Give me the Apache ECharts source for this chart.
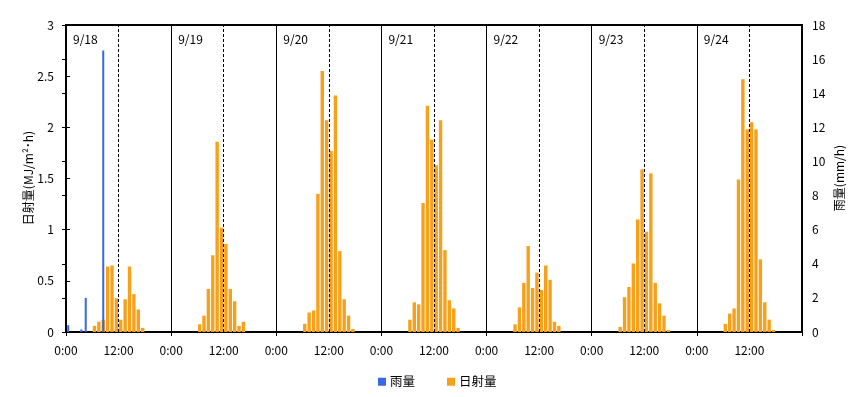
<!DOCTYPE html>
<html>
<head>
<meta charset="utf-8">
<script src="https://cdn.jsdelivr.net/npm/echarts@6/dist/echarts.min.js"></script>
<style>
  html, body { margin: 0; padding: 0; background: #fff; }
  #chart { width: 865px; height: 397px; }
</style>
</head>
<body>
<div id="chart"></div>
<script>
// 日付ラベル
const dates = ['9/18', '9/19', '9/20', '9/21', '9/22', '9/23', '9/24']
// 日射量 (MJ/m2・h) 各日 0時〜23時
const rad0918 = [0, 0, 0, 0, 0, 0, 0.06, 0.10, 0.12, 0.64, 0.65, 0.33, 0.12, 0.32, 0.64, 0.37, 0.22, 0.04, 0, 0, 0, 0, 0, 0]
const rad0919 = [0, 0, 0, 0, 0, 0, 0.075, 0.16, 0.42, 0.75, 1.86, 1.02, 0.86, 0.42, 0.30, 0.06, 0.10, 0, 0, 0, 0, 0, 0, 0]
const rad0920 = [0, 0, 0, 0, 0, 0, 0.08, 0.19, 0.21, 1.35, 2.55, 2.07, 1.77, 2.31, 0.79, 0.32, 0.16, 0.03, 0, 0, 0, 0, 0, 0]
const rad0921 = [0, 0, 0, 0, 0, 0, 0.12, 0.29, 0.27, 1.26, 2.21, 1.88, 1.63, 2.07, 0.80, 0.31, 0.23, 0.04, 0, 0, 0, 0, 0, 0]
const rad0922 = [0, 0, 0, 0, 0, 0, 0.075, 0.24, 0.48, 0.84, 0.43, 0.58, 0.41, 0.65, 0.51, 0.10, 0.06, 0, 0, 0, 0, 0, 0, 0]
const rad0923 = [0, 0, 0, 0, 0, 0, 0.05, 0.34, 0.44, 0.67, 1.10, 1.59, 0.98, 1.55, 0.48, 0.28, 0.16, 0.02, 0, 0, 0, 0, 0, 0]
const rad0924 = [0, 0, 0, 0, 0, 0, 0.08, 0.18, 0.23, 1.49, 2.47, 1.98, 2.05, 1.98, 0.71, 0.29, 0.12, 0.02, 0, 0, 0, 0, 0, 0]
const radByDay = [rad0918, rad0919, rad0920, rad0921, rad0922, rad0923, rad0924]
// 雨量 (mm/h) 降った時間だけ (通し時間 0〜167)
const rainHours = [0, 3, 4, 8]
const rainValues = [0.4, 0.15, 2.0, 16.5]
// 軸目盛
const leftTicks = [0, 0.5, 1, 1.5, 2, 2.5, 3]
const rightTicks = [0, 2, 4, 6, 8, 10, 12, 14, 16, 18]

const totalHours = dates.length * 24
const radData = []
radByDay.forEach((day, d) => {
  day.forEach((v, h) => { if (v > 0) radData.push([d * 24 + h + 0.5, v]) })
})
const rainData = rainHours.map((h, i) => [h + 0.5, rainValues[i]])

// 日の区切り(実線) と 12時(点線)
const guideLines = []
dates.forEach((_, d) => {
  if (d > 0) guideLines.push({ xAxis: d * 24, lineStyle: { type: 'solid', color: '#000', width: 1 } })
  guideLines.push({ xAxis: d * 24 + 12, lineStyle: { type: [3, 2], color: '#000', width: 1 } })
})

const font = '"Noto Sans CJK JP", sans-serif'
// 軸タイトル (縦書き・下から上へ)
const axisTitle = (text, x) => ({
  type: 'text',
  x: x,
  y: 178,
  rotation: Math.PI / 2,
  style: {
    text: text,
    align: 'center',
    verticalAlign: 'middle',
    fill: '#000',
    font: '12px ' + font
  }
})

const chart = echarts.init(document.getElementById('chart'))
chart.setOption({
  animation: false,
  textStyle: { fontFamily: font },
  grid: {
    left: 66, right: 63, top: 25, bottom: 65,
    show: true, borderColor: '#000', borderWidth: 2
  },
  graphic: [
    axisTitle('日射量(MJ/m²･h)', 28),
    axisTitle('雨量(mm/h)', 839)
  ],
  legend: {
    bottom: 4,
    left: 373,
    data: ['雨量', '日射量'],
    icon: 'rect',
    itemWidth: 8,
    itemHeight: 8,
    itemGap: 32,
    textStyle: { fontSize: 12.5, color: '#000', fontFamily: font, padding: [0, 0, 0, -1] }
  },
  xAxis: [
    {
      type: 'value', min: 0, max: totalHours, interval: 12,
      axisLine: { show: true, lineStyle: { color: '#000', width: 2 } },
      axisTick: { show: false },
      splitLine: { show: false },
      axisLabel: {
        color: '#000', fontSize: 12, margin: 12, showMaxLabel: false,
        formatter: v => (v % 24 === 0 ? '0:00' : '12:00')
      }
    },
    {
      type: 'value', position: 'top', min: 0, max: totalHours, interval: 24,
      axisLine: { show: false },
      axisTick: { show: false },
      splitLine: { show: false },
      axisLabel: {
        inside: true, align: 'left', padding: [0, 0, 0, 7], margin: 8,
        color: '#000', fontSize: 12, showMaxLabel: false,
        formatter: v => dates[v / 24] || ''
      }
    },
    {
      type: 'value', position: 'bottom', min: 0, max: totalHours, interval: 24,
      axisLine: { show: false },
      axisTick: { show: true, length: 4, lineStyle: { color: '#000' } },
      splitLine: { show: false },
      axisLabel: { show: false }
    }
  ],
  yAxis: [
    {
      type: 'value', min: leftTicks[0], max: leftTicks[leftTicks.length - 1], interval: 0.5,
      axisLine: { show: true, lineStyle: { color: '#000', width: 2 } },
      axisTick: { show: true, inside: true, length: 4, lineStyle: { color: '#000' } },
      splitLine: { show: false },
      axisLabel: { color: '#000', fontSize: 12, margin: 12 }
    },
    {
      type: 'value', min: rightTicks[0], max: rightTicks[rightTicks.length - 1], interval: 2,
      axisLine: { show: true, lineStyle: { color: '#000', width: 2 } },
      axisTick: { show: true, inside: true, length: 4, lineStyle: { color: '#000' } },
      splitLine: { show: false },
      axisLabel: { color: '#000', fontSize: 12, margin: 10 }
    }
  ],
  series: [
    {
      name: '日射量',
      type: 'bar',
      xAxisIndex: 0,
      yAxisIndex: 0,
      barWidth: 3.4,
      itemStyle: { color: '#f6a11c' },
      data: radData,
      markLine: {
        silent: true,
        symbol: 'none',
        label: { show: false },
        data: guideLines
      }
    },
    {
      name: '雨量',
      type: 'bar',
      xAxisIndex: 2,
      yAxisIndex: 1,
      barWidth: 2,
      z: 3,
      itemStyle: { color: '#3a66e8' },
      data: rainData
    }
  ]
})
</script>
</body>
</html>
